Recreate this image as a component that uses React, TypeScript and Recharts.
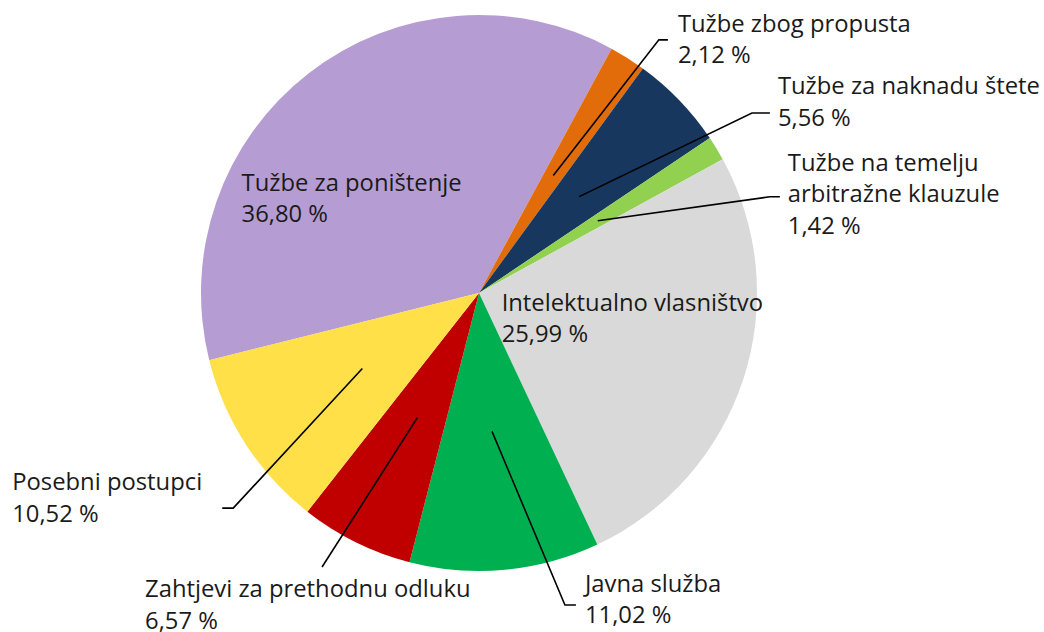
import React from 'react'
import { Cell, Pie, PieChart } from 'recharts'

// Share of new cases by type (%)
const categories = [
  'Tužbe za poništenje',
  'Tužbe zbog propusta',
  'Tužbe za naknadu štete',
  'Tužbe na temelju\narbitražne klauzule',
  'Intelektualno vlasništvo',
  'Javna služba',
  'Zahtjevi za prethodnu odluku',
  'Posebni postupci',
]
const shares = [36.8, 2.12, 5.56, 1.42, 25.99, 11.02, 6.57, 10.52]
const colors = ['#B59DD4', '#E36C0A', '#17375E', '#92D050', '#D9D9D9', '#00B050', '#C00000', '#FFE048']

const data = categories.map((name, i) => ({ name, value: shares[i] }))

// label layout per slice: angle clockwise from 12 o'clock, radius as factor of outerRadius
type Layout =
  | { inside: true; at: [number, number] }
  | { inside: false; elbow: [number, number]; hook: number; dx: number; dy: number }

const layout: Layout[] = [
  { inside: true, at: [-66.7, 0.93] },
  { inside: false, elbow: [35.4, 1.117], hook: 9, dx: 10, dy: -8 },
  { inside: false, elbow: [56.6, 1.176], hook: 18, dx: 8, dy: -19 },
  { inside: false, elbow: [71.7, 1.102], hook: 10, dx: 8, dy: -26 },
  { inside: true, at: [128.5, 0.104] },
  { inside: false, elbow: [164.6, 1.164], hook: 11, dx: 9, dy: -13 },
  { inside: false, elbow: [209.8, 1.136], hook: 0, dx: -177, dy: 30 },
  { inside: false, elbow: [228.8, 1.175], hook: -11, dx: -210, dy: -18 },
]

const FONT = '"Open Sans", sans-serif'
const LINE_H = 31.5
const RAD = Math.PI / 180

const fmt = (v: number) => `${v.toFixed(2).replace('.', ',')} %`

function polar(cx: number, cy: number, r: number, theta: number) {
  return { x: cx + r * Math.sin(theta * RAD), y: cy - r * Math.cos(theta * RAD) }
}

function renderLabel(props: any) {
  const { cx, cy, midAngle, outerRadius, index, value } = props
  const cfg = layout[index]
  const lines = [...categories[index].split('\n'), fmt(value)]
  let tx: number
  let ty: number
  let leader: React.ReactNode = null
  if (cfg.inside) {
    const p = polar(cx, cy, cfg.at[1] * outerRadius, cfg.at[0])
    tx = p.x
    ty = p.y
  } else {
    const start = polar(cx, cy, outerRadius * 0.5, 90 - midAngle)
    const elbow = polar(cx, cy, cfg.elbow[1] * outerRadius, cfg.elbow[0])
    const endX = elbow.x + cfg.hook
    leader = (
      <polyline
        points={`${start.x},${start.y} ${elbow.x},${elbow.y} ${endX},${elbow.y}`}
        fill="none"
        stroke="#000"
        strokeWidth={1.6}
      />
    )
    tx = endX + cfg.dx
    ty = elbow.y + cfg.dy
  }
  return (
    <g key={`lbl-${index}`}>
      {leader}
      <text x={tx} y={ty} fill="#1a1a1a" fontFamily={FONT} fontSize={23.8} textAnchor="start">
        {lines.map((t, i) => (
          <tspan key={i} x={tx} y={ty + i * LINE_H}>
            {t}
          </tspan>
        ))}
      </text>
    </g>
  )
}

export default function App() {
  return (
    <div style={{ position: 'absolute', left: 0, top: 0, width: 1044, height: 632, background: '#fff' }}>
      <PieChart width={1044} height={632} margin={{ top: 0, right: 0, bottom: 0, left: 0 }}>
        <Pie
          data={data}
          dataKey="value"
          nameKey="name"
          cx={479}
          cy={293}
          outerRadius={278}
          startAngle={194}
          endAngle={-166}
          stroke="none"
          label={renderLabel}
          labelLine={false}
          isAnimationActive={false}
        >
          {data.map((entry, index) => (
            <Cell key={`cell-${index}`} fill={colors[index]} />
          ))}
        </Pie>
      </PieChart>
    </div>
  )
}
